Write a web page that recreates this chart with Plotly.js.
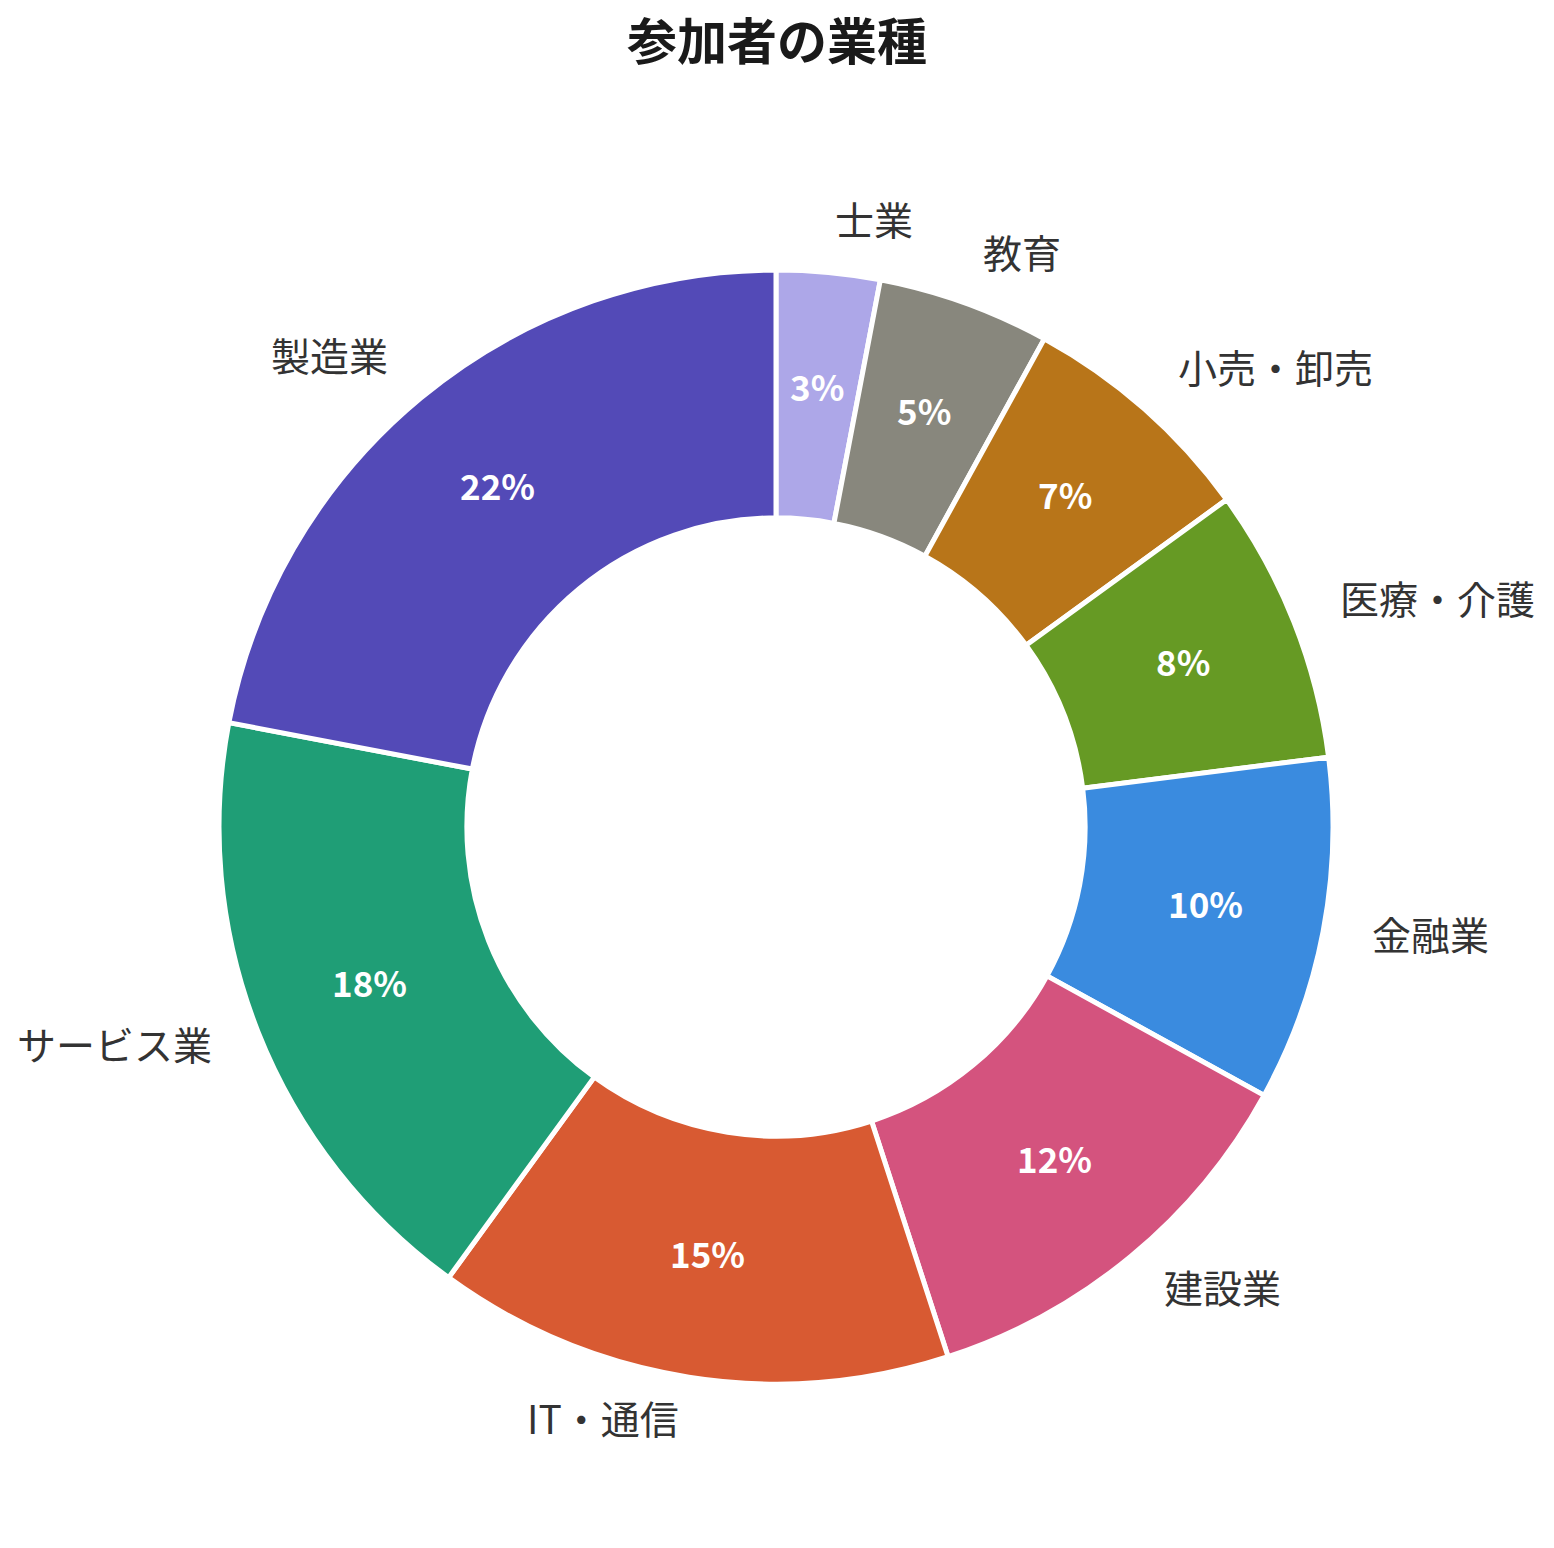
<!DOCTYPE html>
<html>
<head>
<meta charset="utf-8">
<script src="https://cdn.plot.ly/plotly-3.0.1.min.js"></script>
<style>html,body{margin:0;padding:0;background:#fff;}</style>
</head>
<body>
<div id="chart" style="width:1554px;height:1548px;"></div>
<script>
const categories = ["士業", "教育", "小売・卸売", "医療・介護", "金融業", "建設業", "IT・通信", "サービス業", "製造業"];
const values = [3, 5, 7, 8, 10, 12, 15, 18, 22];
const colors = ["#ADA7E8", "#88877D", "#B87519", "#669A24", "#3A8BDF", "#D4537E", "#D85A32", "#1F9E76", "#534AB7"];
const chartTitle = "参加者の業種";

const W = 1554, H = 1548;
const cx = 776, cy = 827, R = 557;
const hole = 0.555;
const labelDist = 1.086, pctDist = 0.785;
const FONT = '"Noto Sans CJK JP", "Noto Sans", sans-serif';

const domainX = [(cx - R) / W, (cx + R) / W];
const domainY = [1 - (cy + R) / H, 1 - (cy - R) / H];

const total = values.reduce((a, b) => a + b, 0);
const annotations = [];
let cum = 0;
values.forEach((v, i) => {
  const mid = (cum + v / 2) / total * 2 * Math.PI;
  cum += v;
  const s = Math.sin(mid), c = Math.cos(mid);
  const lx = cx + R * labelDist * s, ly = cy - R * labelDist * c;
  annotations.push({
    text: categories[i], xref: 'paper', yref: 'paper',
    x: lx / W, y: 1 - ly / H, showarrow: false,
    xanchor: s >= 0 ? 'left' : 'right', yanchor: 'middle', yshift: 7,
    font: {family: FONT, size: 39, color: '#333333'}
  });
  const px = cx + R * pctDist * s, py = cy - R * pctDist * c;
  annotations.push({
    text: '<b>' + Math.round(v / total * 100) + '%</b>', xref: 'paper', yref: 'paper',
    x: px / W, y: 1 - py / H, showarrow: false,
    xanchor: 'center', yanchor: 'middle', yshift: 6,
    font: {family: FONT, size: 35, color: '#ffffff'}
  });
});

const trace = {
  type: 'pie',
  labels: categories,
  values: values,
  sort: false,
  direction: 'clockwise',
  rotation: 0,
  hole: hole,
  textinfo: 'none',
  marker: {colors: colors, line: {color: '#ffffff', width: 5}},
  domain: {x: domainX, y: domainY},
  showlegend: false,
  hoverinfo: 'label+percent'
};

const layout = {
  width: W, height: H,
  margin: {l: 0, r: 0, t: 0, b: 0},
  paper_bgcolor: '#ffffff',
  title: {
    text: '<b>' + chartTitle + '</b>',
    font: {family: FONT, size: 50, color: '#1a1a1a'},
    x: 0.5, xanchor: 'center', xref: 'paper',
    y: 1 - 42 / H, yanchor: 'middle', yref: 'container'
  },
  annotations: annotations,
  showlegend: false
};

Plotly.newPlot('chart', [trace], layout, {displayModeBar: false, staticPlot: true});
</script>
</body>
</html>
